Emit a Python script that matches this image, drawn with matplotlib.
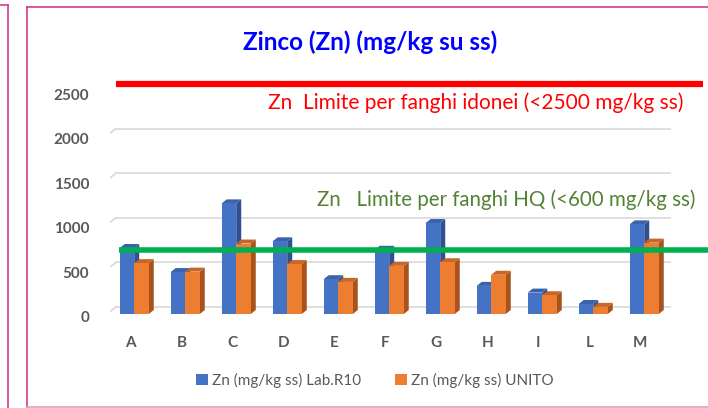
import numpy as np
import matplotlib
matplotlib.use("Agg")
import matplotlib.pyplot as plt
from matplotlib.patches import Polygon, Patch
from matplotlib.lines import Line2D
from matplotlib.transforms import offset_copy

plt.rcParams['font.family'] = ['Lato', 'DejaVu Sans']

# data
categorie = ['A', 'B', 'C', 'D', 'E', 'F', 'G', 'H', 'I', 'L', 'M']
zn_lab_r10 = [740, 470, 1240, 815, 390, 720, 1020, 315, 240, 112, 1005]
zn_unito = [570, 475, 790, 560, 360, 540, 580, 440, 210, 80, 800]
serie_nomi = ['Zn (mg/kg ss) Lab.R10', 'Zn (mg/kg ss) UNITO']
y_ticks = [0, 500, 1000, 1500, 2000, 2500]
limite_idonei = 2500
limite_hq = 635   # level the green line is drawn at in the original
testo_idonei = 'Zn  Limite per fanghi idonei (<2500 mg/kg ss)'
testo_hq = 'Zn   Limite per fanghi HQ (<600 mg/kg ss)'
titolo = 'Zinco (Zn) (mg/kg su ss)'

W, H, DPI = 708, 408, 100
fig = plt.figure(figsize=(W / DPI, H / DPI), dpi=DPI)

# axes box in pixels (front plane)
ax_l, ax_r, ax_b, ax_t = 110, 671, 314, 91
ax = fig.add_axes([ax_l / W, 1 - ax_b / H, (ax_r - ax_l) / W, (ax_b - ax_t) / H])
x0, x1 = -0.4, 10.6
ax.set_xlim(x0, x1)
ax.set_ylim(0, 2500)
for s in ax.spines.values():
    s.set_visible(False)

grey = '#595959'
ppx = (ax_r - ax_l) / (x1 - x0)      # pixels per category unit
ppy = (ax_b - ax_t) / 2500.0         # pixels per mg/kg

# back wall gridlines (shifted up/right) + slanted floor edge
back = offset_copy(ax.transData, fig=fig, x=6, y=7, units='dots')
for v in y_ticks:
    ax.plot([x0, x1], [v, v], color='#D9D9D9', lw=1.2, transform=back, zorder=0)
    ax.plot([x0 - 7 / ppx, x0 + 6 / ppx], [v - 3 / ppy, v + 7 / ppy],
            color='#D9D9D9', lw=1.2, zorder=0)

# 3D style columns
w = 0.285
dx = 5 / ppx
dy = 4 / ppy
colori = [('#4472C4', '#3A62AD', '#2F5191'), ('#ED7D31', '#C96526', '#A9531C')]
serie = [zn_lab_r10, zn_unito]
for i in range(len(categorie)):
    for s, vals in enumerate(serie):
        front, top, side = colori[s]
        xl = i - 0.21 + s * w
        xr = xl + w
        h = vals[i]
        ax.add_patch(Polygon([(xr, 0), (xr + dx, dy), (xr + dx, h + dy), (xr, h)],
                             closed=True, fc=side, ec='none', zorder=2))
        ax.add_patch(Polygon([(xl, h), (xr, h), (xr + dx, h + dy), (xl + dx, h + dy)],
                             closed=True, fc=top, ec='none', zorder=2))
        ax.add_patch(Polygon([(xl, 0), (xr, 0), (xr, h), (xl, h)],
                             closed=True, fc=front, ec='none', zorder=2))

# limit lines, drawn on the back wall like in the original
ax.plot([x0 + 0.0, x1 + 0.5], [limite_idonei, limite_idonei], color='#FF0000', lw=4.5,
        transform=back, clip_on=False, zorder=5, solid_capstyle='butt')
ax.plot([x0 + 0.05, x1 + 0.8], [limite_hq, limite_hq], color='#00B050', lw=4,
        transform=back, clip_on=False, zorder=5, solid_capstyle='butt')

fig.text(683 / W, 1 - 103 / H, testo_idonei, color='#FF0000', fontsize=15,
         ha='right', va='center')
fig.text(695 / W, 1 - 200 / H, testo_hq, color='#548235', fontsize=14.8,
         ha='right', va='center')

# ticks
ax.set_xticks(range(len(categorie)))
ax.set_xticklabels(categorie, fontweight='bold', color=grey, fontsize=11)
ax.set_yticks(y_ticks)
ax.set_yticklabels([str(v) for v in y_ticks], fontweight='bold', color=grey, fontsize=11)
ax.tick_params(axis='x', length=0, pad=16)
ax.tick_params(axis='y', length=0, pad=15)
for lbl in ax.get_yticklabels():
    lbl.set_transform(offset_copy(lbl.get_transform(), fig=fig, x=0, y=-3, units='dots'))

fig.text(370 / W, 1 - 42 / H, titolo, color='#0000FF', fontsize=17.5, fontweight='bold',
         ha='center', va='center')

handles = [Patch(fc=colori[0][0]), Patch(fc=colori[1][0])]
fig.legend(handles, serie_nomi, loc='center', bbox_to_anchor=(375 / W, 1 - 380 / H),
           ncol=2, frameon=False, handlelength=0.75, handleheight=0.75, handletextpad=0.3,
           columnspacing=2.2, fontsize=11, labelcolor=grey)

# panel borders
pink = '#D63C8C'
fig.add_artist(Line2D([27 / W, 27 / W], [1 - 7 / H, 1 - 407 / H], color=pink, lw=1.2))
fig.add_artist(Line2D([27 / W, 1], [1 - 7 / H, 1 - 7 / H], color=pink, lw=1.2))
fig.add_artist(Line2D([27 / W, 1], [1 - 407 / H, 1 - 407 / H], color='#E0A0C0', lw=1.2))
fig.add_artist(Line2D([8 / W, 8 / W], [1 - 5 / H, 0], color=pink, lw=1.2))
fig.add_artist(Line2D([0, 8 / W], [1 - 5 / H, 1 - 5 / H], color=pink, lw=1.2))

fig.savefig('out.png', dpi=DPI)
